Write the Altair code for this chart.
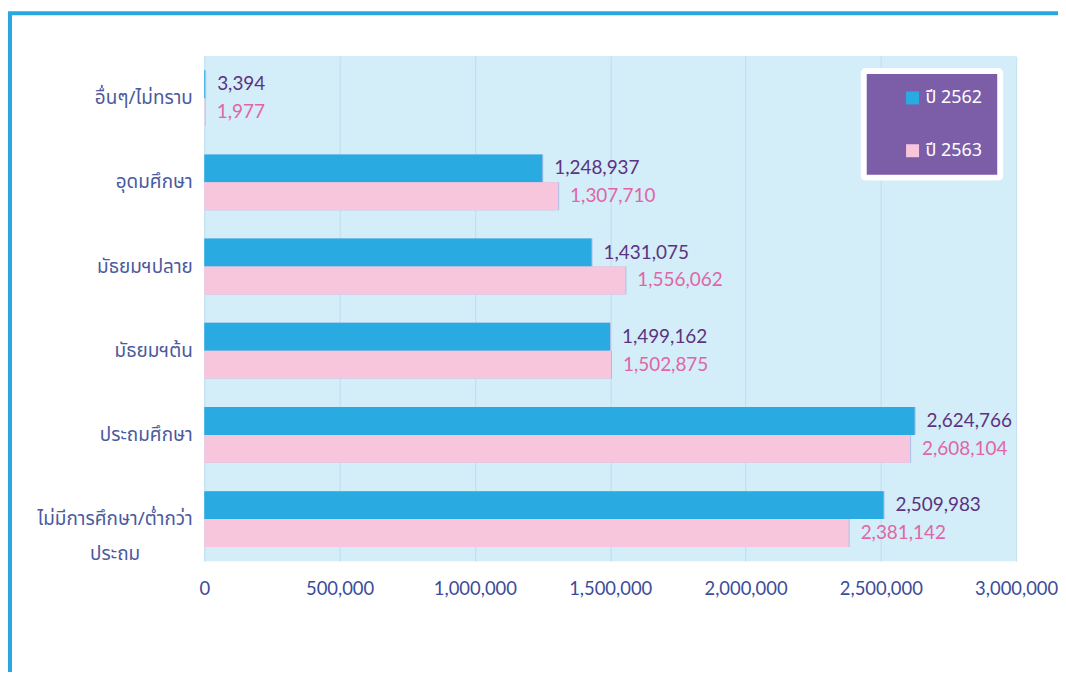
import altair as alt
import pandas as pd

categories = ["อื่นๆ/ไม่ทราบ", "อุดมศึกษา", "มัธยมฯปลาย", "มัธยมฯต้น", "ประถมศึกษา",
              "ไม่มีการศึกษา/ต่ำกว่าประถม"]
years = ["ปี 2562", "ปี 2563"]
v2562 = [3394, 1248937, 1431075, 1499162, 2624766, 2509983]
v2563 = [1977, 1307710, 1556062, 1502875, 2608104, 2381142]
x_ticks = [0, 500000, 1000000, 1500000, 2000000, 2500000, 3000000]

rows = []
for c, a, b in zip(categories, v2562, v2563):
    rows.append({"cat": c, "year": years[0], "value": a})
    rows.append({"cat": c, "year": years[1], "value": b})
df = pd.DataFrame(rows)

THAI = "Noto Sans Thai, Tahoma, Noto Sans, DejaVu Sans, sans-serif"
NUM = "Lato, Noto Sans, sans-serif"
BLUE = "#29ABE2"
PINK = "#F7C5DC"
FRAME = "#29A8E0"
LONG = "ไม่มีการศึกษา/ต่ำกว่าประถม"
TEST = "datum.value == '" + LONG + "'"

y_enc = alt.Y("cat:N", sort=categories, title=None,
              scale=alt.Scale(paddingInner=0.337, paddingOuter=0.1685),
              axis=alt.Axis(
                  labelExpr=TEST + " ? ['ไม่มีการศึกษา/ต่ำกว่า', 'ประถม'] : datum.value",
                  labelFont=THAI, labelFontSize=19, labelColor="#4A5A9E",
                  labelAlign={"condition": {"test": TEST, "value": "center"}, "value": "right"},
                  labelPadding={"condition": {"test": TEST, "value": 90}, "value": 12},
                  labelLineHeight=35, domain=False, ticks=False,
                  grid=False, labelLimit=300))
x_enc = alt.X("value:Q", title=None,
              scale=alt.Scale(domain=[0, 3000000], nice=False),
              axis=alt.Axis(values=x_ticks, format=",d", labelFont=NUM,
                            labelFontSize=18.5, labelColor="#3C4C9A",
                            labelPadding=18, labelFlush=False, labelOverlap=False,
                            domain=False, ticks=False,
                            grid=True, gridColor="#BFDDF0", gridWidth=1))
yoff = alt.YOffset("year:N", sort=years)

base = alt.Chart(df)

shadow = base.mark_bar(color="#9FB0E3", opacity=0.75, yOffset=3, xOffset=1).encode(
    x=x_enc, y=y_enc, yOffset=yoff)

bars = base.mark_bar().encode(
    x=x_enc, y=y_enc, yOffset=yoff,
    color=alt.Color("year:N", sort=years,
                    scale=alt.Scale(domain=years, range=[BLUE, PINK]),
                    legend=alt.Legend(title=None, orient="none", legendX=662, legendY=15,
                                      fillColor="#7B5EA7", strokeColor="white",
                                      padding=18, symbolOffset=22,
                                      symbolType="square", symbolSize=170,
                                      symbolStrokeWidth=0, labelColor="white",
                                      labelFont="Noto Sans Thai, Noto Sans, sans-serif",
                                      labelFontSize=18, rowPadding=35,
                                      labelOffset=4)))

labels = base.mark_text(align="left", baseline="middle", dx=12, font=NUM,
                        fontSize=19).encode(
    x=x_enc, y=y_enc, yOffset=yoff,
    text=alt.Text("value:Q", format=",d"),
    color=alt.condition("datum.year == 'ปี 2562'", alt.value("#5C3380"),
                        alt.value("#E066A6")))

frame_left = alt.Chart(pd.DataFrame({"k": [0]})).mark_rule(
    color=FRAME, strokeWidth=4).encode(
    x=alt.value(-195), y=alt.value(-43), y2=alt.value(630))
frame_top = alt.Chart(pd.DataFrame({"k": [0]})).mark_rule(
    color=FRAME, strokeWidth=4).encode(
    y=alt.value(-43), x=alt.value(-197), x2=alt.value(860))

chart = alt.layer(shadow, bars, labels, frame_left, frame_top).properties(
    width=815, height=507,
    autosize=alt.AutoSizeParams(type="none"),
    padding={"left": 197, "top": 47, "right": 42, "bottom": 110},
    background="white",
).configure_view(fill="#D3EDF9", stroke=None).configure_legend(
    strokeWidth=6, cornerRadius=2)

chart.save("out.html", embed_options={"renderer": "svg", "actions": False})
